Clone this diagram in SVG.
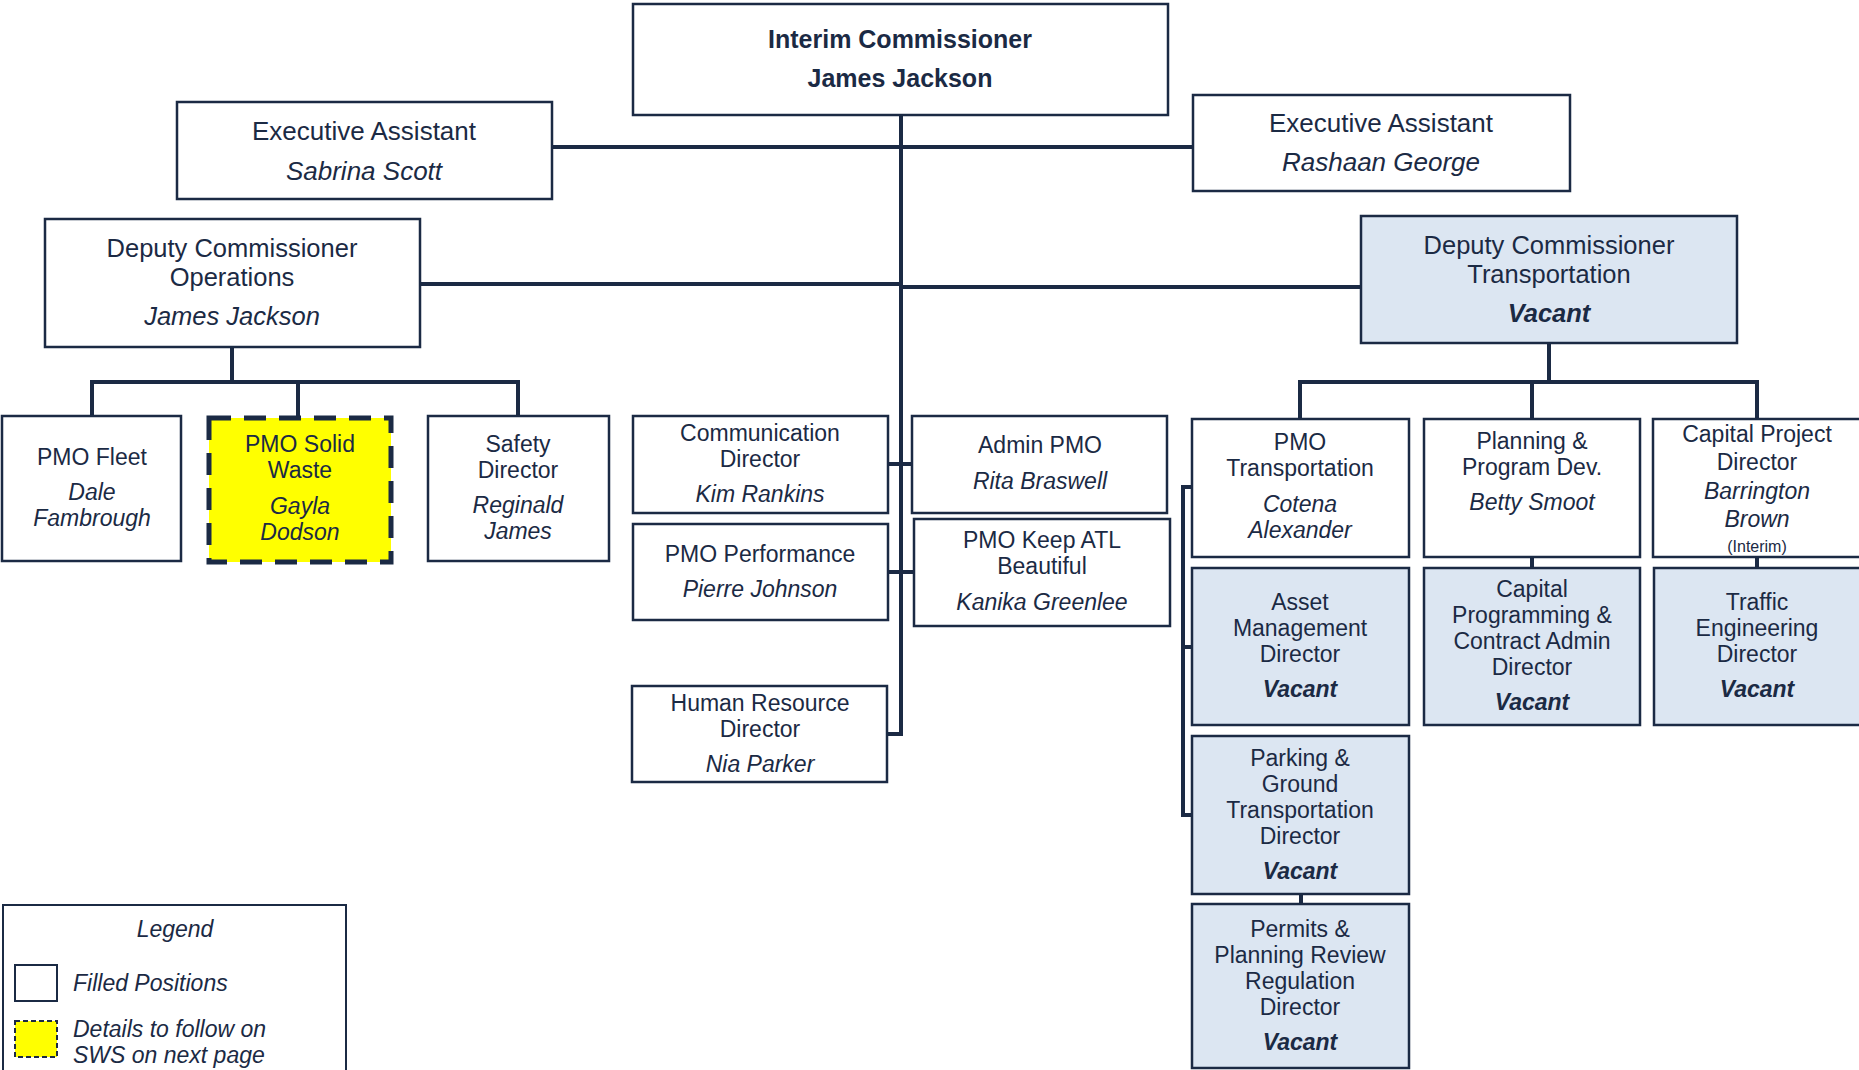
<svg xmlns="http://www.w3.org/2000/svg" width="1859" height="1070" viewBox="0 0 1859 1070">
<style>
.box{fill:#ffffff;stroke:#1b2a44;stroke-width:2.5}
.vac{fill:#dce6f2;stroke:#1b2a44;stroke-width:2.5}
.sws{fill:#ffff00;stroke:#1b2a44;stroke-width:5;stroke-dasharray:22 13}
.conn{fill:none;stroke:#1b2a44;stroke-width:4}
text{font-family:"Liberation Sans",Arial,sans-serif;fill:#1b2a44;text-anchor:middle}
.l{font-size:23px}
.top{font-size:26px}
.dep{font-size:25.5px}
.i{font-style:italic}
.b{font-weight:bold}
.bi{font-weight:bold;font-style:italic}
.lg{font-size:23px;font-style:italic;text-anchor:start}
</style>
<rect width="1859" height="1070" fill="#ffffff"/>
<g id="connectors">
  <path class="conn" d="M901 115 V734 H887"/>
  <path class="conn" d="M552 147 H1193"/>
  <path class="conn" d="M420 284 H901"/>
  <path class="conn" d="M901 287 H1361"/>
  <path class="conn" d="M232 348 V382 M92 416 V382 H518 V416 M298 382 V417"/>
  <path class="conn" d="M888 464 H912 M888 572 H914"/>
  <path class="conn" d="M1549 344 V382 M1300 419 V382 H1757 V419 M1532 382 V419"/>
  <path class="conn" d="M1532 557 V568 M1757 557 V568 M1301 894 V904"/>
  <path class="conn" d="M1192 487 H1183 V647 H1192 M1183 647 V815 H1192"/>
</g>
<g id="interim-commissioner">
  <rect class="box" x="633" y="4" width="535" height="111"/>
  <text class="b" x="900" y="48" font-size="25">Interim Commissioner</text>
  <text class="b" x="900" y="87" font-size="25">James Jackson</text>
</g>
<g id="ea-scott">
  <rect class="box" x="177" y="102" width="375" height="97"/>
  <text class="top" x="364" y="140">Executive Assistant</text>
  <text class="top i" x="364" y="180">Sabrina Scott</text>
</g>
<g id="ea-george">
  <rect class="box" x="1193" y="95" width="377" height="96"/>
  <text class="top" x="1381" y="132">Executive Assistant</text>
  <text class="top i" x="1381" y="171">Rashaan George</text>
</g>
<g id="dc-operations">
  <rect class="box" x="45" y="219" width="375" height="128"/>
  <text class="dep" x="232" y="257">Deputy Commissioner</text>
  <text class="dep" x="232" y="286">Operations</text>
  <text class="dep i" x="232" y="325">James Jackson</text>
</g>
<g id="dc-transportation">
  <rect class="vac" x="1361" y="216" width="376" height="127"/>
  <text class="dep" x="1549" y="254">Deputy Commissioner</text>
  <text class="dep" x="1549" y="283">Transportation</text>
  <text class="dep bi" x="1549" y="322">Vacant</text>
</g>
<g id="pmo-fleet">
  <rect class="box" x="2" y="416" width="179" height="145"/>
  <text class="l" x="92" y="465">PMO Fleet</text>
  <text class="l i" x="92" y="500">Dale</text>
  <text class="l i" x="92" y="526">Fambrough</text>
</g>
<g id="pmo-solid-waste">
  <rect class="sws" x="209" y="418" width="182" height="144"/>
  <text class="l" x="300" y="452">PMO Solid</text>
  <text class="l" x="300" y="478">Waste</text>
  <text class="l i" x="300" y="514">Gayla</text>
  <text class="l i" x="300" y="540">Dodson</text>
</g>
<g id="safety-director">
  <rect class="box" x="428" y="416" width="181" height="145"/>
  <text class="l" x="518" y="452">Safety</text>
  <text class="l" x="518" y="478">Director</text>
  <text class="l i" x="518" y="513">Reginald</text>
  <text class="l i" x="518" y="539">James</text>
</g>
<g id="communication-director">
  <rect class="box" x="633" y="416" width="255" height="97"/>
  <text class="l" x="760" y="441">Communication</text>
  <text class="l" x="760" y="467">Director</text>
  <text class="l i" x="760" y="502">Kim Rankins</text>
</g>
<g id="admin-pmo">
  <rect class="box" x="912" y="416" width="255" height="97"/>
  <text class="l" x="1040" y="453">Admin PMO</text>
  <text class="l i" x="1040" y="489">Rita Braswell</text>
</g>
<g id="pmo-performance">
  <rect class="box" x="633" y="524" width="255" height="96"/>
  <text class="l" x="760" y="562">PMO Performance</text>
  <text class="l i" x="760" y="597">Pierre Johnson</text>
</g>
<g id="pmo-keep-atl">
  <rect class="box" x="914" y="519" width="256" height="107"/>
  <text class="l" x="1042" y="548">PMO Keep ATL</text>
  <text class="l" x="1042" y="574">Beautiful</text>
  <text class="l i" x="1042" y="610">Kanika Greenlee</text>
</g>
<g id="hr-director">
  <rect class="box" x="632" y="686" width="255" height="96"/>
  <text class="l" x="760" y="711">Human Resource</text>
  <text class="l" x="760" y="737">Director</text>
  <text class="l i" x="760" y="772">Nia Parker</text>
</g>
<g id="pmo-transportation">
  <rect class="box" x="1192" y="419" width="217" height="138"/>
  <text class="l" x="1300" y="450">PMO</text>
  <text class="l" x="1300" y="476">Transportation</text>
  <text class="l i" x="1300" y="512">Cotena</text>
  <text class="l i" x="1300" y="538">Alexander</text>
</g>
<g id="planning-program-dev">
  <rect class="box" x="1424" y="419" width="216" height="138"/>
  <text class="l" x="1532" y="449">Planning &amp;</text>
  <text class="l" x="1532" y="475">Program Dev.</text>
  <text class="l i" x="1532" y="510">Betty Smoot</text>
</g>
<g id="capital-project-director">
  <rect class="box" x="1653" y="419" width="210" height="138"/>
  <text class="l" x="1757" y="442">Capital Project</text>
  <text class="l" x="1757" y="470">Director</text>
  <text class="l i" x="1757" y="499">Barrington</text>
  <text class="l i" x="1757" y="527">Brown</text>
  <text x="1757" y="552" font-size="16">(Interim)</text>
</g>
<g id="asset-management-director">
  <rect class="vac" x="1192" y="568" width="217" height="157"/>
  <text class="l" x="1300" y="610">Asset</text>
  <text class="l" x="1300" y="636">Management</text>
  <text class="l" x="1300" y="662">Director</text>
  <text class="l bi" x="1300" y="697">Vacant</text>
</g>
<g id="capital-programming-director">
  <rect class="vac" x="1424" y="568" width="216" height="157"/>
  <text class="l" x="1532" y="597">Capital</text>
  <text class="l" x="1532" y="623">Programming &amp;</text>
  <text class="l" x="1532" y="649">Contract Admin</text>
  <text class="l" x="1532" y="675">Director</text>
  <text class="l bi" x="1532" y="710">Vacant</text>
</g>
<g id="traffic-engineering-director">
  <rect class="vac" x="1654" y="568" width="209" height="157"/>
  <text class="l" x="1757" y="610">Traffic</text>
  <text class="l" x="1757" y="636">Engineering</text>
  <text class="l" x="1757" y="662">Director</text>
  <text class="l bi" x="1757" y="697">Vacant</text>
</g>
<g id="parking-ground-director">
  <rect class="vac" x="1192" y="736" width="217" height="158"/>
  <text class="l" x="1300" y="766">Parking &amp;</text>
  <text class="l" x="1300" y="792">Ground</text>
  <text class="l" x="1300" y="818">Transportation</text>
  <text class="l" x="1300" y="844">Director</text>
  <text class="l bi" x="1300" y="879">Vacant</text>
</g>
<g id="permits-planning-director">
  <rect class="vac" x="1192" y="904" width="217" height="164"/>
  <text class="l" x="1300" y="937">Permits &amp;</text>
  <text class="l" x="1300" y="963">Planning Review</text>
  <text class="l" x="1300" y="989">Regulation</text>
  <text class="l" x="1300" y="1015">Director</text>
  <text class="l bi" x="1300" y="1050">Vacant</text>
</g>
<g id="legend">
  <rect x="3" y="905" width="343" height="175" fill="#ffffff" stroke="#1b2a44" stroke-width="2"/>
  <text x="175" y="937" font-size="23" font-style="italic">Legend</text>
  <rect x="15" y="965" width="42" height="36" fill="#ffffff" stroke="#1b2a44" stroke-width="2"/>
  <text class="lg" x="73" y="991">Filled Positions</text>
  <rect x="15" y="1021" width="42" height="36" fill="#ffff00" stroke="#1b2a44" stroke-width="2" stroke-dasharray="5 3"/>
  <text class="lg" x="73" y="1037">Details to follow on</text>
  <text class="lg" x="73" y="1063">SWS on next page</text>
</g>
</svg>
